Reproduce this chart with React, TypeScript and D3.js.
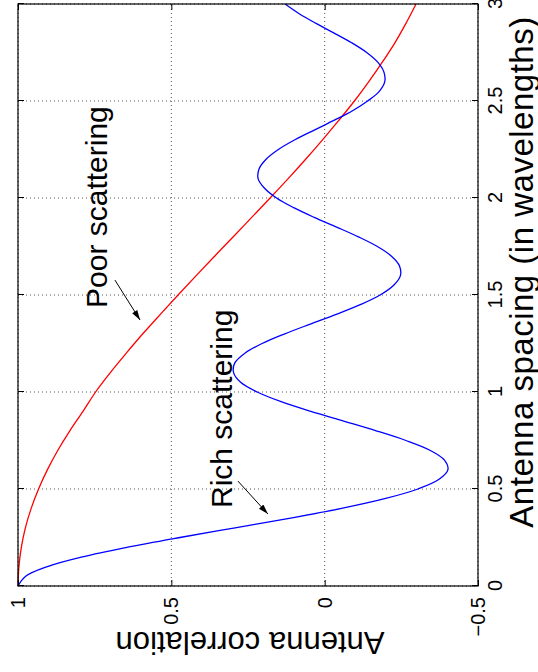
import React, { useEffect, useRef } from 'react';
import * as d3 from 'd3';

// antenna spacing (wavelengths) sampled for the rich scattering curve
const spacingRich = [
  0, 0.05, 0.1, 0.15, 0.2, 0.25, 0.3, 0.35, 0.4, 0.45, 0.5, 0.55, 0.6, 0.65, 0.7, 0.75,
  0.8, 0.85, 0.9, 0.95, 1, 1.05, 1.1, 1.15, 1.2, 1.25, 1.3, 1.35, 1.4, 1.45, 1.5, 1.55,
  1.6, 1.65, 1.7, 1.75, 1.8, 1.85, 1.9, 1.95, 2, 2.05, 2.1, 2.15, 2.2, 2.25, 2.3, 2.35,
  2.4, 2.45, 2.5, 2.55, 2.6, 2.65, 2.7, 2.75, 2.8, 2.85, 2.9, 2.95, 3,
];
const richScattering = [
  1.0, 0.975, 0.904, 0.79, 0.642, 0.472, 0.292, 0.111, -0.055, -0.196, -0.304, -0.373,
  -0.402, -0.39, -0.343, -0.265, -0.168, -0.062, 0.045, 0.142, 0.22, 0.274, 0.297, 0.293,
  0.26, 0.204, 0.13, 0.047, -0.038, -0.116, -0.181, -0.225, -0.247, -0.244, -0.218, -0.172,
  -0.11, -0.039, 0.034, 0.101, 0.157, 0.196, 0.217, 0.214, 0.191, 0.151, 0.097, 0.034,
  -0.03, -0.091, -0.14, -0.178, -0.196, -0.193, -0.173, -0.137, -0.088, -0.031, 0.028,
  0.083, 0.129,
];

// poor scattering curve
const spacingPoor = [
  0, 0.1, 0.2, 0.3, 0.4, 0.5, 0.6, 0.7, 0.8, 0.9, 1, 1.1, 1.2, 1.3, 1.4, 1.5, 1.6, 1.7,
  1.8, 1.9, 2, 2.1, 2.2, 2.3, 2.4, 2.5, 2.6, 2.7, 2.8, 2.9, 3,
];
const poorScattering = [
  1.0, 0.997, 0.989, 0.976, 0.957, 0.933, 0.904, 0.87, 0.831, 0.788, 0.747, 0.699, 0.647,
  0.593, 0.536, 0.478, 0.419, 0.359, 0.298, 0.238, 0.178, 0.119, 0.062, 0.007, -0.046,
  -0.097, -0.144, -0.188, -0.229, -0.265, -0.298,
];

const spacingTicks = [0, 0.5, 1, 1.5, 2, 2.5, 3];
const correlationTicks = [-0.5, 0, 0.5, 1];

// annotations in data units: [spacing, correlation]
const annotations = [
  { label: 'Poor scattering', at: [1.433, 0.71], from: [1.577, 0.684], to: [1.371, 0.602] },
  { label: 'Rich scattering', at: [0.402, 0.302], from: [0.541, 0.283], to: [0.371, 0.185] },
];

const FONT = '"Liberation Sans", Arial, Helvetica, sans-serif';

export default function App() {
  const ref = useRef<SVGSVGElement>(null);

  useEffect(() => {
    const svg = d3.select(ref.current);
    svg.selectAll('*').remove();

    // the MATLAB figure is turned a quarter turn; draw it upright inside a rotated group
    const width = 582;
    const height = 460;
    const x = d3.scaleLinear().domain([0, 3]).range([0, width]);
    const y = d3.scaleLinear().domain([-0.5, 1]).range([height, 0]);

    svg.append('defs').append('marker')
      .attr('id', 'arrowhead')
      .attr('viewBox', '0 0 10 10')
      .attr('refX', 10)
      .attr('refY', 5)
      .attr('markerWidth', 10)
      .attr('markerHeight', 10)
      .attr('markerUnits', 'userSpaceOnUse')
      .attr('orient', 'auto')
      .append('path')
      .attr('d', 'M0,2 L10,5 L0,8 Z')
      .attr('fill', '#000');

    const g = svg.append('g').attr('transform', 'translate(18,586) rotate(-90)');

    // grid
    g.append('g').selectAll('line').data(spacingTicks).join('line')
      .attr('x1', d => x(d)).attr('x2', d => x(d))
      .attr('y1', 0).attr('y2', height)
      .attr('stroke', '#555').attr('stroke-dasharray', '1,3');
    g.append('g').selectAll('line').data(correlationTicks).join('line')
      .attr('x1', 0).attr('x2', width)
      .attr('y1', d => y(d)).attr('y2', d => y(d))
      .attr('stroke', '#555').attr('stroke-dasharray', '1,3');

    // curves
    const line = d3.line<number>()
      .curve(d3.curveCatmullRom);
    g.append('path')
      .attr('d', line(spacingPoor.map((s, i) => [x(s), y(poorScattering[i])]) as any))
      .attr('fill', 'none').attr('stroke', '#ff0000').attr('stroke-width', 1.3);
    g.append('path')
      .attr('d', line(spacingRich.map((s, i) => [x(s), y(richScattering[i])]) as any))
      .attr('fill', 'none').attr('stroke', '#0000ff').attr('stroke-width', 1.3);

    // axes, ticks pointing inward
    const fmt = d3.format('');
    const styleAxis = (sel: any, labels: boolean) => {
      sel.select('.domain').remove();
      sel.selectAll('.tick line').attr('stroke', '#000').attr('stroke-width', 1);
      sel.attr('font-family', FONT).attr('font-size', 20);
      sel.selectAll('.tick text').attr('fill', '#000');
      if (!labels) sel.selectAll('.tick text').remove();
    };
    g.append('g').attr('transform', `translate(0,${height})`)
      .call(d3.axisBottom(x).tickValues(spacingTicks).tickSize(-6).tickPadding(10).tickFormat(fmt as any))
      .call((s: any) => styleAxis(s, true));
    g.append('g')
      .call(d3.axisTop(x).tickValues(spacingTicks).tickSize(-6))
      .call((s: any) => styleAxis(s, false));
    g.append('g')
      .call(d3.axisLeft(y).tickValues(correlationTicks).tickSize(-6).tickPadding(11).tickFormat(fmt as any))
      .call((s: any) => styleAxis(s, true));
    g.append('g').attr('transform', `translate(${width},0)`)
      .call(d3.axisRight(y).tickValues(correlationTicks).tickSize(-6))
      .call((s: any) => styleAxis(s, false));

    // frame
    g.append('rect')
      .attr('width', width).attr('height', height)
      .attr('fill', 'none').attr('stroke', '#000').attr('stroke-width', 1.2);

    // axis labels
    g.append('text')
      .attr('x', width / 2 + 23).attr('y', height + 55)
      .attr('text-anchor', 'middle')
      .attr('font-family', FONT).attr('font-size', 33).attr('letter-spacing', 0.5)
      .text('Antenna spacing (in wavelengths)');
    g.append('text')
      .attr('transform', `translate(-46,${height / 2 + 2}) rotate(-90)`)
      .attr('text-anchor', 'middle')
      .attr('font-family', FONT).attr('font-size', 31)
      .text('Antenna correlation');

    // annotations
    annotations.forEach(a => {
      g.append('text')
        .attr('x', x(a.at[0])).attr('y', y(a.at[1]))
        .attr('font-family', FONT).attr('font-size', 30)
        .text(a.label);
      g.append('line')
        .attr('x1', x(a.from[0])).attr('y1', y(a.from[1]))
        .attr('x2', x(a.to[0])).attr('y2', y(a.to[1]))
        .attr('stroke', '#000').attr('stroke-width', 1)
        .attr('marker-end', 'url(#arrowhead)');
    });
  }, []);

  return (
    <svg ref={ref} width={538} height={672}
      style={{ position: 'absolute', left: 0, top: 0, background: '#fff' }} />
  );
}
